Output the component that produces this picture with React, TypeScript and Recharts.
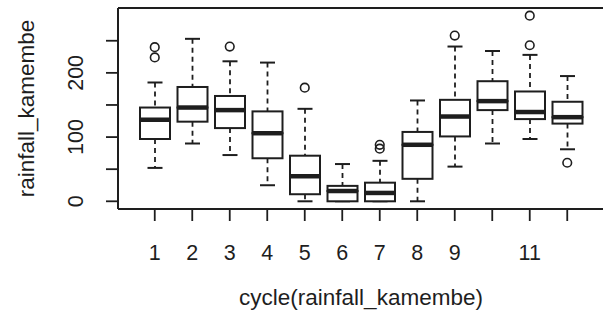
import { ComposedChart, Bar, Scatter, XAxis, YAxis, ReferenceLine } from "recharts";

const months = [1, 2, 3, 4, 5, 6, 7, 8, 9, 10, 11, 12];
const monthLabels = ["1", "2", "3", "4", "5", "6", "7", "8", "9", "", "11", ""];
const lowerWhisker = [52, 90, 72, 25, 0, 0, 0, 0, 54, 90, 97, 81];
const q1 = [97, 124, 114, 67, 11, 0, 0, 35, 101, 142, 128, 121];
const median = [127, 146, 142, 106, 39, 16, 13, 88, 132, 156, 139, 131];
const q3 = [146, 178, 164, 140, 71, 24, 29, 108, 158, 187, 171, 155];
const upperWhisker = [185, 253, 218, 216, 144, 58, 63, 157, 241, 234, 228, 195];
const outlierMonths = [1, 1, 3, 5, 7, 7, 9, 11, 11, 12];
const outlierValues = [224, 240, 241, 177, 82, 88, 258, 243, 289, 60];
const yTicks = [0, 50, 100, 150, 200, 250];
const yLabelTicks = [0, 100, 200];

const INK = "#1e1e1e";
const FONT = "'Liberation Sans', Arial, sans-serif";

// stacked segments: base (hidden) | lower whisker | box low half | box high half | upper whisker
const rows = months.map((m, i) => ({
  month: m,
  base: lowerWhisker[i],
  lw: q1[i] - lowerWhisker[i],
  bl: median[i] - q1[i],
  bu: q3[i] - median[i],
  uw: upperWhisker[i] - q3[i],
}));

const outliers = outlierMonths.map((m, i) => ({ month: m, value: outlierValues[i] }));

const Hidden = () => null;

const BoxHalf = (p: any) => (
  <rect x={p.x} y={p.y} width={p.width} height={p.height} fill="#fff" stroke={INK} strokeWidth={2} />
);

const BoxTop = (p: any) => (
  <g>
    <rect x={p.x} y={p.y} width={p.width} height={p.height} fill="#fff" stroke={INK} strokeWidth={2} />
    <line x1={p.x} x2={p.x + p.width} y1={p.y + p.height} y2={p.y + p.height} stroke={INK} strokeWidth={4.5} />
  </g>
);

const Whisker = (top: boolean) => (p: any) => {
  const cx = p.x + p.width / 2;
  const capY = top ? p.y : p.y + p.height;
  return (
    <g>
      <line x1={cx} x2={cx} y1={p.y} y2={p.y + p.height} stroke={INK} strokeWidth={1.8} strokeDasharray="5 4" />
      <line x1={cx - p.width / 4} x2={cx + p.width / 4} y1={capY} y2={capY} stroke={INK} strokeWidth={2} />
    </g>
  );
};

const Ring = (p: any) => <circle cx={p.cx} cy={p.cy} r={4.3} fill="none" stroke={INK} strokeWidth={1.6} />;

const XTick = (p: any) => {
  const i = months.indexOf(p.payload.value);
  return (
    <text x={p.x} y={p.y + 37} textAnchor="middle" fontSize={21.5} fontFamily={FONT} fill={INK}>
      {monthLabels[i]}
    </text>
  );
};

const YTick = (p: any) => {
  if (!yLabelTicks.includes(p.payload.value)) return null;
  const x = p.x - 21;
  return (
    <text x={x} y={p.y} transform={`rotate(-90 ${x} ${p.y})`} textAnchor="middle" fontSize={21.5} fontFamily={FONT} fill={INK}>
      {p.payload.value}
    </text>
  );
};

export default function App() {
  return (
    <div style={{ position: "fixed", left: 0, top: 0, width: 603, height: 324, overflow: "hidden", background: "#fff" }}>
      <ComposedChart width={620} height={324} data={rows} margin={{ top: 8, right: 16, left: 0, bottom: 0 }} barGap={0}>
        <XAxis
          dataKey="month"
          type="number"
          domain={[0.02, 12.98]}
          allowDataOverflow
          ticks={months}
          interval={0}
          tickSize={12}
          height={115}
          axisLine={{ stroke: INK, strokeWidth: 2 }}
          tickLine={{ stroke: INK, strokeWidth: 1.8 }}
          tick={<XTick />}
          label={({ viewBox }: any) => (
            <text x={viewBox.x + viewBox.width / 2} y={viewBox.y + 96} textAnchor="middle" fontSize={22.5} fontFamily={FONT} fill={INK}>
              cycle(rainfall_kamembe)
            </text>
          )}
        />
        <YAxis
          type="number"
          domain={[-12, 301]}
          allowDataOverflow
          ticks={yTicks}
          interval={0}
          tickSize={12}
          width={118}
          axisLine={{ stroke: INK, strokeWidth: 2 }}
          tickLine={{ stroke: INK, strokeWidth: 1.8 }}
          tick={<YTick />}
          label={({ viewBox }: any) => {
            const cy = viewBox.y + viewBox.height / 2;
            return (
              <text x={34} y={cy} transform={`rotate(-90 34 ${cy})`} textAnchor="middle" fontSize={22.5} fontFamily={FONT} fill={INK}>
                rainfall_kamembe
              </text>
            );
          }}
        />
        <ReferenceLine y={301} stroke={INK} strokeWidth={2} ifOverflow="visible" />
        <Bar dataKey="base" stackId="b" barSize={30} shape={<Hidden />} isAnimationActive={false} />
        <Bar dataKey="lw" stackId="b" barSize={30} shape={Whisker(false)} isAnimationActive={false} />
        <Bar dataKey="bl" stackId="b" barSize={30} shape={<BoxHalf />} isAnimationActive={false} />
        <Bar dataKey="bu" stackId="b" barSize={30} shape={<BoxTop />} isAnimationActive={false} />
        <Bar dataKey="uw" stackId="b" barSize={30} shape={Whisker(true)} isAnimationActive={false} />
        <Scatter data={outliers} dataKey="value" shape={<Ring />} isAnimationActive={false} />
      </ComposedChart>
    </div>
  );
}
